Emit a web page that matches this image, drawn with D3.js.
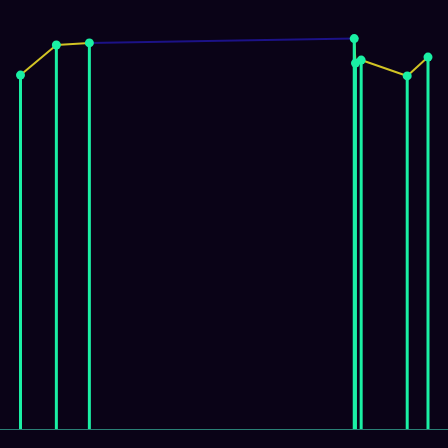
<!DOCTYPE html>
<html>
<head>
<script src="https://cdnjs.cloudflare.com/ajax/libs/d3/7.8.5/d3.min.js"></script>
<style>
body {margin: 0; background: #0a0317;}
svg {display: block;}
</style>
</head>
<body>
<svg id="chart" width="448" height="448"></svg>
<script>
// x positions (0..100) and values of each stem
let xs = [0, 8.8, 16.9, 81.9, 82.2, 83.6, 94.9, 100];
let ys = [82.5, 89.5, 90.0, 91.0, 85.3, 86.0, 82.3, 86.7];
// segments spanning a wide gap are drawn in blue
let gapLimit = 30;

var svg = d3.select("#chart");
svg.append("rect").attr("width", 448).attr("height", 448).attr("fill", "#0a0317");

var x = d3.scaleLinear().domain([0, 100]).range([20.5, 428]);
var y = d3.scaleLinear().domain([0, 100]).range([429, 0]);

var pts = xs.map((d, i) => ({x: d, y: ys[i]}));

svg.append("line")
  .attr("x1", 0).attr("x2", 448)
  .attr("y1", y(0) + 0.5).attr("y2", y(0) + 0.5)
  .attr("stroke", "#2a8076").attr("stroke-width", 1.2);

var segs = d3.pairs(pts);
svg.selectAll("line.seg")
  .data(segs)
  .enter()
  .append("line")
    .attr("class", "seg")
    .attr("x1", d => x(d[0].x)).attr("y1", d => y(d[0].y))
    .attr("x2", d => x(d[1].x)).attr("y2", d => y(d[1].y))
    .attr("stroke", d => (d[1].x - d[0].x) > gapLimit ? "#1c1287" : "#d2c424")
    .attr("stroke-width", 2);

svg.selectAll("line.stem")
  .data(pts)
  .enter()
  .append("line")
    .attr("class", "stem")
    .attr("x1", d => x(d.x)).attr("x2", d => x(d.x))
    .attr("y1", d => y(d.y)).attr("y2", y(0))
    .attr("stroke", "#1af0a4").attr("stroke-width", 3);

svg.selectAll("circle")
  .data(pts)
  .enter()
  .append("circle")
    .attr("cx", d => x(d.x)).attr("cy", d => y(d.y))
    .attr("r", 4.5)
    .attr("fill", "#1af0a4");
</script>
</body>
</html>
